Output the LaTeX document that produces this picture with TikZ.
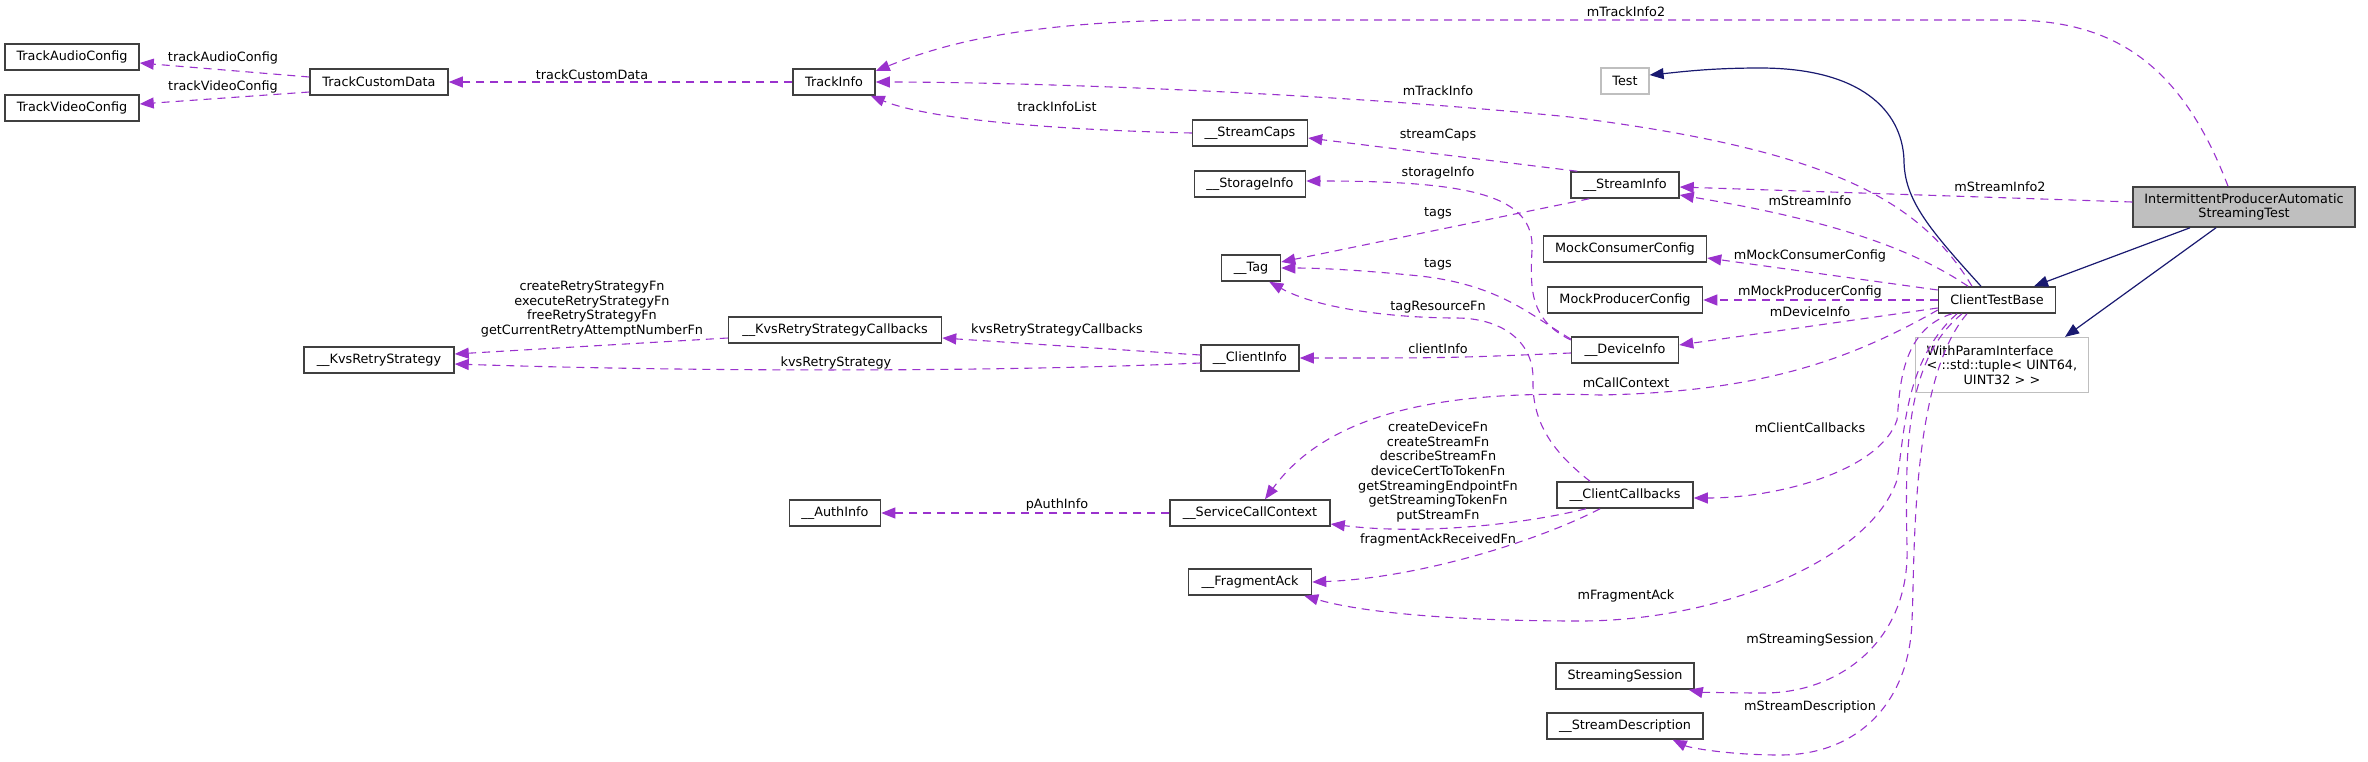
\documentclass[tikz,border=0pt]{standalone}
\usepackage{fontspec}
\setmainfont{DejaVu Sans}
\usepackage{tikz}
\usetikzlibrary{arrows.meta}

\definecolor{usecol}{HTML}{9A32CD}
\definecolor{inhcol}{HTML}{191970}
\definecolor{grey75}{HTML}{BFBFBF}
\definecolor{boxline}{HTML}{404040}
\newcommand\dfont{\fontsize{12.8pt}{14.6pt}\selectfont}

\tikzset{
  cls/.style={draw=boxline, line width=1.5pt, fill=white, minimum width=#1,
    minimum height=26pt, inner sep=0pt, font=\dfont},
  lbl/.style={inner sep=0pt, font=\dfont, align=center},
  usedby/.style={draw=usecol, line width=1.1pt, dash pattern=on 8pt off 6pt,
    -{Triangle[length=14pt,width=11pt]}},
  inherit/.style={draw=inhcol, line width=1.2pt, -{Triangle[length=14pt,width=11pt]}}
}

\begin{document}
\begin{tikzpicture}[x=1pt,y=-1pt]
\useasboundingbox (0,0) rectangle (2368,761);

\node[cls=134pt] (audio) at (72,57) {TrackAudioConfig};
\node[cls=134pt] (video) at (72,108) {TrackVideoConfig};
\node[cls=138pt] (custom) at (379,82) {TrackCustomData};
\node[cls=82pt] (trackinfo) at (834,82) {TrackInfo};
\node[cls=48pt, draw=grey75, line width=1.2pt] (test) at (1625,81) {Test};
\node[cls=115pt] (caps) at (1250,133) {\_\_StreamCaps};
\node[cls=111pt] (storage) at (1250,184) {\_\_StorageInfo};
\node[cls=108pt] (streaminfo) at (1625,185) {\_\_StreamInfo};
\node[cls=222pt, fill=grey75, minimum height=40pt, align=center] (ipast) at (2244,207)
  {IntermittentProducerAutomatic\\StreamingTest};
\node[cls=163pt] (consumer) at (1625,249) {MockConsumerConfig};
\node[cls=59pt] (tag) at (1251,268) {\_\_Tag};
\node[cls=155pt] (producer) at (1625,300) {MockProducerConfig};
\node[cls=117pt] (ctb) at (1997,300) {ClientTestBase};
\node[cls=213pt] (retrycb) at (835,330) {\_\_KvsRetryStrategyCallbacks};
\node[cls=150pt] (retry) at (379,360) {\_\_KvsRetryStrategy};
\node[cls=107pt] (deviceinfo) at (1625,350) {\_\_DeviceInfo};
\node[cls=98pt] (clientinfo) at (1250,358) {\_\_ClientInfo};
\node[cls=0pt, draw=grey75, line width=1.2pt, text width=151pt, inner xsep=11pt,
  minimum height=55pt, align=center] (wpi) at (2002,365)
  {\makebox[\linewidth][l]{WithParamInterface}\\
   \makebox[\linewidth][l]{< ::std::tuple< UINT64,}\\UINT32 > >};
\node[cls=91pt] (authinfo) at (835,513) {\_\_AuthInfo};
\node[cls=160pt] (callctx) at (1250,513) {\_\_ServiceCallContext};
\node[cls=136pt] (callbacks) at (1625,495) {\_\_ClientCallbacks};
\node[cls=123pt] (fragack) at (1250,582) {\_\_FragmentAck};
\node[cls=138pt] (session) at (1625,676) {StreamingSession};
\node[cls=156pt] (streamdesc) at (1625,726) {\_\_StreamDescription};

\draw[usedby] ([yshift=5pt]custom.west) -- ([yshift=-6pt]audio.east);
\node[lbl] (lAudio) at (223,58) {trackAudioConfig};
\draw[usedby] ([yshift=-10pt]custom.west) -- ([yshift=4pt]video.east);
\node[lbl] (lVideo) at (223,87) {trackVideoConfig};
\draw[usedby] (trackinfo.west) -- (custom.east);
\node[lbl] (lCustom) at (592,75) {trackCustomData};

\draw[usedby] ([xshift=-16pt]ipast.north) .. controls (2180,60) and (2110,20) .. (2009,20)
  -- (1188,20) .. controls (1020,22) and (940,45) .. ([yshift=11pt]trackinfo.east);
\node[lbl] (lTrackInfo2) at (1626,12) {mTrackInfo2};
\draw[usedby] ([xshift=-25pt]ctb.north) .. controls (1920,200) and (1830,150) .. (1570,117)
  .. controls (1300,90) and (1000,82) .. (trackinfo.east);
\node[lbl] (lTrackInfo) at (1438,91) {mTrackInfo};
\draw[usedby] (caps.west) .. controls (1060,130) and (930,120) .. ([xshift=-5pt]trackinfo.south east);
\node[lbl] (lInfoList) at (1057,107) {trackInfoList};

\draw[usedby] ([xshift=7pt]streaminfo.north west) -- ([yshift=-5pt]caps.east);
\node[lbl] (lCaps) at (1438,135) {streamCaps};
\draw[usedby] ([yshift=10pt]deviceinfo.west) .. controls (1530,320) and (1530,290) .. (1532,250)
  .. controls (1535,195) and (1470,181) .. ([yshift=3pt]storage.east);
\node[lbl] (lStorage) at (1438,173) {storageInfo};
\draw[usedby] ([xshift=19pt]streaminfo.south west) -- ([yshift=6pt]tag.east);
\node[lbl] (lTags) at (1438,213) {tags};
\draw[usedby] ([yshift=11pt]deviceinfo.west) .. controls (1530,315) and (1500,285) .. (1420,276)
  .. controls (1360,270) and (1320,268) .. (tag.east);
\node[lbl] (lTagsDev) at (1438,264) {tags};
\draw[usedby] ([xshift=-35pt]callbacks.north) .. controls (1550,450) and (1532,420) .. (1533,380)
  .. controls (1534,340) and (1500,318) .. (1456,318)
  .. controls (1400,318) and (1320,310) .. ([xshift=-12pt]tag.south east);
\node[lbl] (lTagRes) at (1438,307) {tagResourceFn};

\draw[usedby] ([yshift=3pt]clientinfo.west) -- ([yshift=-8pt]retrycb.east);
\node[lbl] (lRetryCb) at (1057,330) {kvsRetryStrategyCallbacks};
\draw[usedby] ([yshift=-5pt]clientinfo.west) .. controls (1000,372) and (700,372) .. ([yshift=-4pt]retry.east);
\node[lbl] (lRetry) at (836,363) {kvsRetryStrategy};
\draw[usedby] ([yshift=-8pt]retrycb.west) -- ([yshift=6pt]retry.east);
\node[lbl] (lRetryFns) at (592,309) {createRetryStrategyFn\\executeRetryStrategyFn\\freeRetryStrategyFn\\getCurrentRetryAttemptNumberFn};
\draw[usedby] ([yshift=-3pt]deviceinfo.west) .. controls (1450,358) .. (clientinfo.east);
\node[lbl] (lClient) at (1438,349) {clientInfo};

\draw[usedby] ([xshift=-29pt]ctb.north) .. controls (1900,240) and (1800,215) .. ([yshift=-10pt]streaminfo.east);
\node[lbl] (lStream) at (1810,201) {mStreamInfo};
\draw[usedby] ([yshift=5pt]ipast.west) -- ([yshift=-2pt]streaminfo.east);
\node[lbl] (lStream2) at (2000,187) {mStreamInfo2};
\draw[usedby] ([yshift=10pt]ctb.west) -- ([yshift=-9pt]consumer.east);
\node[lbl] (lConsumer) at (1810,256) {mMockConsumerConfig};
\draw[usedby] (ctb.west) -- (producer.east);
\node[lbl] (lProducer) at (1810,292) {mMockProducerConfig};
\draw[usedby] ([yshift=-8pt]ctb.west) -- ([yshift=5pt]deviceinfo.east);
\node[lbl] (lDevice) at (1810,312) {mDeviceInfo};

\draw[usedby] ([yshift=-10pt]ctb.west) .. controls (1850,360) and (1760,392) .. (1600,395)
  .. controls (1450,390) and (1330,410) .. ([xshift=15pt]callctx.north);
\node[lbl] (lCallCtx) at (1626,383) {mCallContext};
\draw[usedby] (callctx.west) -- (authinfo.east);
\node[lbl] (lAuth) at (1057,505) {pAuthInfo};
\draw[usedby] ([xshift=-39pt]callbacks.south) .. controls (1520,525) and (1420,535) .. ([yshift=-11pt]callctx.east);
\node[lbl] (lCbFns) at (1438,472) {createDeviceFn\\createStreamFn\\describeStreamFn\\deviceCertToTokenFn\\getStreamingEndpointFn\\getStreamingTokenFn\\putStreamFn};
\draw[usedby] ([xshift=-25pt]callbacks.south) .. controls (1540,540) and (1420,578) .. (fragack.east);
\node[lbl] (lAckFn) at (1438,540) {fragmentAckReceivedFn};

\draw[usedby] ([xshift=-45pt]ctb.south) .. controls (1900,330) and (1900,390) .. (1897,420)
  .. controls (1880,470) and (1780,498) .. ([yshift=-3pt]callbacks.east);
\node[lbl] (lCallbacks) at (1810,428) {mClientCallbacks};
\draw[usedby] ([xshift=-40pt]ctb.south) .. controls (1905,360) and (1905,430) .. (1897,480)
  .. controls (1870,560) and (1720,621) .. (1580,621)
  .. controls (1450,621) and (1360,612) .. ([xshift=-8pt]fragack.south east);
\node[lbl] (lAck) at (1626,596) {mFragmentAck};
\draw[usedby] ([xshift=-35pt]ctb.south) .. controls (1905,360) and (1905,450) .. (1907,547)
  .. controls (1910,640) and (1840,693) .. (1764,693)
  .. controls (1730,693) and (1700,692) .. ([xshift=-6pt]session.south east);
\node[lbl] (lSession) at (1810,640) {mStreamingSession};
\draw[usedby] ([xshift=-30pt]ctb.south) .. controls (1910,380) and (1915,560) .. (1912,620)
  .. controls (1910,700) and (1860,755) .. (1780,755)
  .. controls (1730,755) and (1690,748) .. ([xshift=-31pt]streamdesc.south east);
\node[lbl] (lDesc) at (1810,707) {mStreamDescription};

\draw[inherit] ([xshift=-16pt]ctb.north) .. controls (1930,230) and (1904,200) .. (1904,160)
  .. controls (1902,110) and (1860,68) .. (1760,68)
  .. controls (1710,68) and (1680,72) .. ([yshift=6pt]test.east);
\draw[inherit] ([xshift=-54pt]ipast.south) -- ([xshift=37pt]ctb.north);
\draw[inherit] ([xshift=-28pt]ipast.south) -- ([xshift=63pt]wpi.north);
\end{tikzpicture}
\end{document}
